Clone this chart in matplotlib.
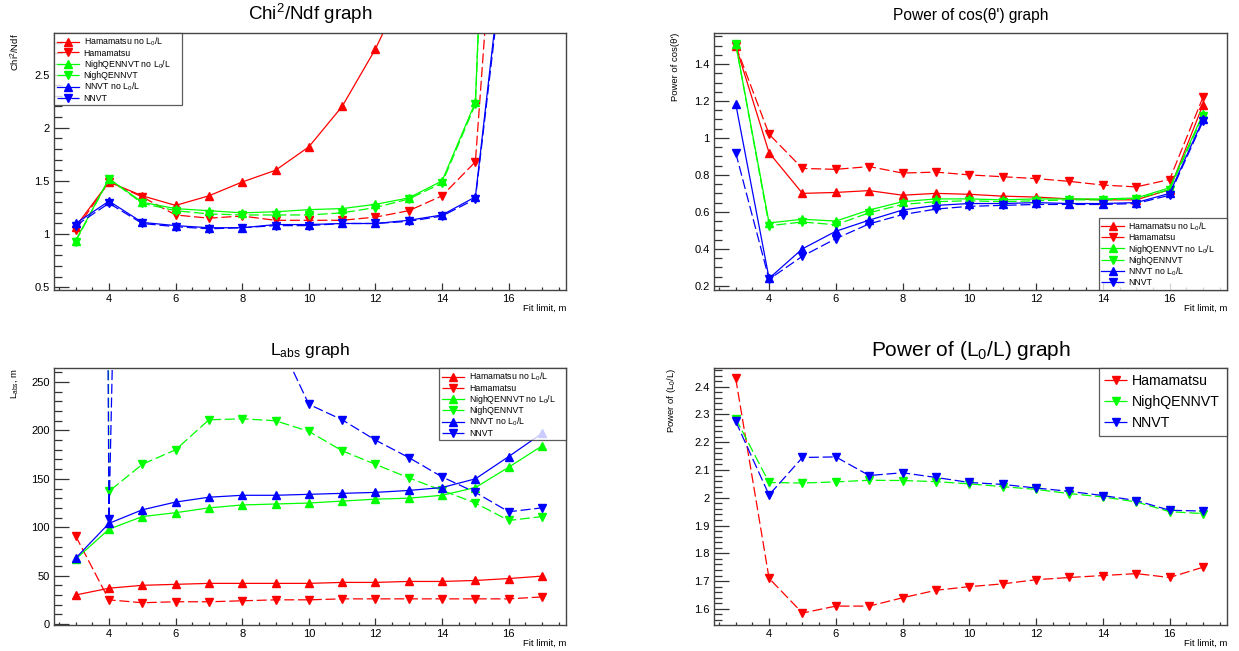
import numpy as np
import matplotlib.pyplot as plt
from matplotlib.ticker import MultipleLocator, FuncFormatter

plt.rcParams['font.family'] = ['Liberation Sans', 'DejaVu Sans']
plt.rcParams['mathtext.default'] = 'regular'

fit_limit = np.arange(3, 18)

# Chi2/Ndf (points above the frame are cut off, as in the original)
chi_ham_no = [1.07, 1.49, 1.36, 1.27, 1.36, 1.49, 1.60, 1.82, 2.20, 2.74, 3.40, 4.5, 6.0, 8.0, 10.0]
chi_ham = [1.04, 1.49, 1.35, 1.18, 1.15, 1.17, 1.13, 1.13, 1.13, 1.16, 1.22, 1.36, 1.68, 6.0, 9.0]
chi_nigh_no = [0.94, 1.52, 1.30, 1.24, 1.22, 1.20, 1.21, 1.23, 1.24, 1.28, 1.34, 1.50, 2.24, 10.0, 14.0]
chi_nigh = [0.93, 1.52, 1.29, 1.22, 1.19, 1.18, 1.18, 1.18, 1.20, 1.25, 1.33, 1.48, 2.22, 10.0, 14.0]
chi_nnvt_no = [1.10, 1.31, 1.11, 1.08, 1.06, 1.06, 1.09, 1.09, 1.10, 1.10, 1.13, 1.18, 1.35, 4.1, 6.0]
chi_nnvt = [1.08, 1.29, 1.10, 1.07, 1.05, 1.06, 1.08, 1.08, 1.10, 1.10, 1.12, 1.17, 1.33, 4.0, 6.0]

# power of cos(theta')
cos_ham_no = [1.50, 0.92, 0.70, 0.705, 0.715, 0.69, 0.70, 0.695, 0.685, 0.68, 0.67, 0.665, 0.665, 0.72, 1.18]
cos_ham = [1.50, 1.02, 0.835, 0.83, 0.845, 0.81, 0.815, 0.80, 0.79, 0.78, 0.765, 0.745, 0.735, 0.775, 1.22]
cos_nigh_no = [1.51, 0.54, 0.56, 0.55, 0.61, 0.655, 0.67, 0.67, 0.665, 0.67, 0.67, 0.67, 0.675, 0.73, 1.13]
cos_nigh = [1.51, 0.525, 0.545, 0.53, 0.595, 0.64, 0.655, 0.66, 0.655, 0.66, 0.665, 0.665, 0.67, 0.72, 1.12]
cos_nnvt_no = [1.185, 0.24, 0.40, 0.495, 0.555, 0.61, 0.635, 0.645, 0.645, 0.65, 0.645, 0.645, 0.65, 0.70, 1.10]
cos_nnvt = [0.92, 0.235, 0.36, 0.455, 0.535, 0.585, 0.615, 0.63, 0.635, 0.64, 0.64, 0.64, 0.645, 0.69, 1.09]

# L_abs
labs_ham_no = [30, 37, 40, 41, 42, 42, 42, 42, 43, 43, 44, 44, 45, 47, 49.5]
labs_ham = [91, 25, 22, 23, 23, 24, 25, 25, 26, 26, 26, 26, 26, 26, 28]
labs_nigh_no = [67, 98, 111, 115, 120, 123, 124, 125, 127, 129, 130, 133, 141, 162, 184]
labs_nigh = [8000, 137, 165, 180, 211, 212, 210, 199, 179, 165, 151, 138, 125, 107, 111]
labs_nnvt_no = [68, 104, 118, 126, 131, 133, 133, 134, 135, 136, 138, 141, 150, 173, 197]
labs_nnvt = [6000, 108, 1700, 900, 600, 420, 300, 227, 211, 190, 172, 152, 136, 116, 120]

# power of (L0/L)
pow_ham = [2.43, 1.71, 1.585, 1.61, 1.61, 1.64, 1.667, 1.68, 1.69, 1.705, 1.713, 1.72, 1.727, 1.713, 1.75]
pow_nigh = [2.285, 2.055, 2.053, 2.057, 2.063, 2.062, 2.058, 2.05, 2.04, 2.03, 2.015, 2.003, 1.985, 1.95, 1.943]
pow_nnvt = [2.275, 2.01, 2.145, 2.147, 2.08, 2.09, 2.073, 2.055, 2.048, 2.035, 2.023, 2.008, 1.99, 1.955, 1.952]

noL = ' no L$_0$/L'
names = ['Hamamatsu', 'NighQENNVT', 'NNVT']
colors = ['#ff0000', '#00ff00', '#0000ff']

W, H = 1239, 651
fig = plt.figure(figsize=(W / 100, H / 100), dpi=100)


def px_axes(x0, y0, x1, y1):
    return fig.add_axes([x0 / W, 1 - y1 / H, (x1 - x0) / W, (y1 - y0) / H])


plain = FuncFormatter(lambda v, p: '%g' % round(v, 6))


def style(ax, ylim, major, minor, title, title_fs, ylabel, xlab_y, ylab_x):
    ax.set_xlim(2.35, 17.72)
    ax.set_ylim(*ylim)
    ax.xaxis.set_major_locator(MultipleLocator(2))
    ax.xaxis.set_minor_locator(MultipleLocator(0.5))
    ax.yaxis.set_major_locator(MultipleLocator(major))
    ax.yaxis.set_minor_locator(MultipleLocator(minor))
    ax.yaxis.set_major_formatter(plain)
    ax.tick_params(which='both', direction='in', top=False, right=False,
                   labelsize=8, width=0.9, color='#333333')
    ax.tick_params(axis='y', which='major', length=11, pad=3)
    ax.tick_params(axis='y', which='minor', length=5.5)
    ax.tick_params(axis='x', which='major', length=5, pad=3)
    ax.tick_params(axis='x', which='minor', length=2.5)
    for s in ax.spines.values():
        s.set_color('#444444')
        s.set_linewidth(1.0)
    ax.set_title(title, fontsize=title_fs, pad=9)
    ax.set_xlabel('Fit limit, m', fontsize=6.8, loc='right')
    ax.xaxis.set_label_coords(1.0, xlab_y)
    ax.set_ylabel(ylabel, fontsize=6.8, loc='top')
    ax.yaxis.set_label_coords(ylab_x, 1.0)


def plot_pair(ax, no_vals, vals, color):
    ax.plot(fit_limit, no_vals, '-', color=color, lw=0.9, marker='^', ms=5.5)
    ax.plot(fit_limit, vals, color=color, lw=0.9, marker='v', ms=5.5,
            dashes=(8, 3))


def legend6(ax, loc, bbox, fs=6.3):
    labels = []
    for n in names:
        labels += [n + noL, n]
    leg = ax.legend(ax.lines, labels, loc=loc, bbox_to_anchor=bbox,
                    mode='expand', fontsize=fs, frameon=True, fancybox=False,
                    edgecolor='#333333', borderpad=0.3, labelspacing=0.05,
                    handlelength=2.6, handletextpad=0.5, numpoints=1,
                    borderaxespad=0)
    leg.get_frame().set_linewidth(0.9)
    return leg


# panel 1
ax1 = px_axes(54, 33, 566, 290)
for nv, v, c in zip([chi_ham_no, chi_nigh_no, chi_nnvt_no], [chi_ham, chi_nigh, chi_nnvt], colors):
    plot_pair(ax1, nv, v, c)
style(ax1, (0.475, 2.89), 0.5, 0.1, 'Chi$^2$/Ndf graph', 13.5, 'Chi$^2$/Ndf', -0.055, -0.062)
legend6(ax1, 'upper left', (0.0, 1.0, 0.25, 0.0))

# panel 2
ax2 = px_axes(714, 33, 1227, 290)
for nv, v, c in zip([cos_ham_no, cos_nigh_no, cos_nnvt_no], [cos_ham, cos_nigh, cos_nnvt], colors):
    plot_pair(ax2, nv, v, c)
style(ax2, (0.177, 1.568), 0.2, 0.05, "Power of cos(\u03b8') graph", 11.2, "Power of cos(\u03b8')", -0.055, -0.066)
legend6(ax2, 'lower left', (0.75, 0.0, 0.25, 0.0))

# panel 3
ax3 = px_axes(54, 368, 566, 625)
for nv, v, c in zip([labs_ham_no, labs_nigh_no, labs_nnvt_no], [labs_ham, labs_nigh, labs_nnvt], colors):
    plot_pair(ax3, nv, v, c)
style(ax3, (-1, 264.5), 50, 10, 'L$_{abs}$ graph', 12.5, 'L$_{abs}$, m', -0.055, -0.066)
legend6(ax3, 'upper left', (0.752, 1.0, 0.248, 0.0))

# panel 4
ax4 = px_axes(714, 368, 1227, 625)
for v, c in zip([pow_ham, pow_nigh, pow_nnvt], colors):
    ax4.plot(fit_limit, v, color=c, lw=0.9, marker='v', ms=5.5, dashes=(8, 3))
style(ax4, (1.542, 2.467), 0.1, 0.02, 'Power of (L$_0$/L) graph', 15, 'Power of (L$_0$/L)', -0.055, -0.07)
leg = ax4.legend(ax4.lines, names, loc='upper left', bbox_to_anchor=(0.75, 1.0, 0.25, 0.0),
                 mode='expand', fontsize=10.2, frameon=True, fancybox=False,
                 edgecolor='#333333', borderpad=0.4, labelspacing=0.5,
                 handlelength=1.6, handletextpad=0.35, numpoints=1, borderaxespad=0)
leg.get_frame().set_linewidth(0.9)

fig.savefig('out.png', dpi=100)
